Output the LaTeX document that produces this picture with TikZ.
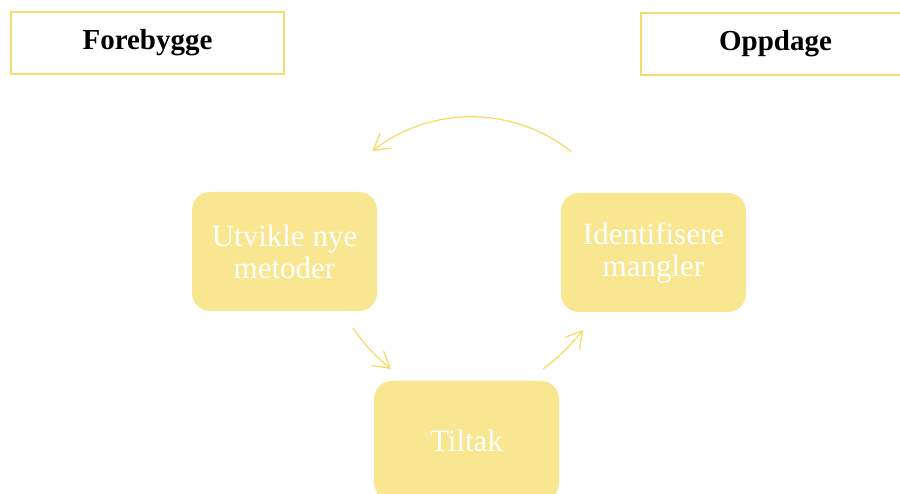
\documentclass[tikz,border=0pt]{standalone}
\usepackage{fontspec}
\setmainfont{Liberation Serif}
\usetikzlibrary{arrows.meta}
\definecolor{boxfill}{HTML}{F8E691}
\definecolor{lineyellow}{HTML}{F6DC6C}
\begin{document}
\begin{tikzpicture}[x=1pt,y=-1pt,
  header/.style={draw=lineyellow,line width=1.1pt,fill=white,minimum height=62pt,
    font=\fontsize{29}{31}\selectfont\bfseries,text=black},
  stage/.style={fill=boxfill,rounded corners=18pt,minimum width=185pt,minimum height=119pt,
    text=white,font=\fontsize{31}{32}\selectfont,align=center,inner sep=0pt},
  flow/.style={draw=lineyellow,line width=1.3pt,
    -{Straight Barb[length=16pt,width=19pt,line width=1.3pt]}}]
\useasboundingbox (0,0) rectangle (900,494);
% phase headers
\node[header,minimum width=273pt] (forebygge) at (147.5,43) {Forebygge};
\node[header,minimum width=269pt] (oppdage) at (775.5,44) {Oppdage};
% cycle stages
\node[stage] (utvikle) at (284.5,251.5) {Utvikle nye\\metoder};
\node[stage] (identifisere) at (653.5,252.5) {Identifisere\\mangler};
\node[stage,minimum height=120pt] (tiltak) at (466.5,441) {\raisebox{-4pt}{Tiltak}};
% arrow end points
\coordinate (a1) at (571.3,151.6);
\coordinate (b1) at (353,328);
\coordinate (b2) at (391,369);
\coordinate (c1) at (543,369);
\coordinate (c2) at (583,330);
% cycle arrows
\draw[flow] (a1) arc[start angle=-51.7, end angle=-128.1, radius=161];
\draw[flow] (b1) .. controls (364,344) and (376,357) .. (b2);
\draw[flow] (c1) .. controls (556,360) and (570,346) .. (c2);
\end{tikzpicture}
\end{document}
